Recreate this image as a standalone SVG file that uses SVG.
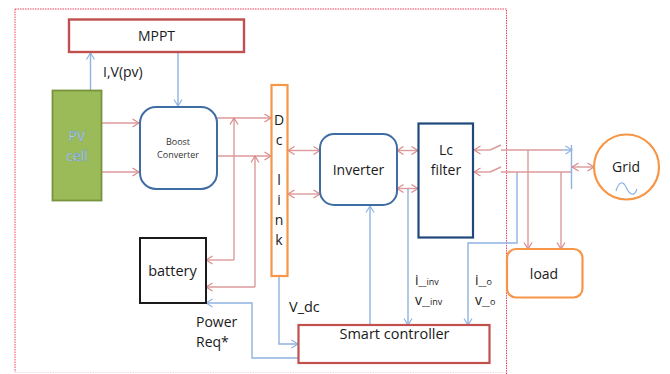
<svg xmlns="http://www.w3.org/2000/svg" width="670" height="374" viewBox="0 0 670 374">
<defs>
<marker id="r" markerUnits="userSpaceOnUse" markerWidth="9" markerHeight="10" refX="7.500" refY="5" orient="auto-start-reverse"><path d="M1,1 L7.500,5 L1,9" fill="none" stroke="#d98a8a" stroke-width="1.200"/></marker>
<marker id="b" markerUnits="userSpaceOnUse" markerWidth="9" markerHeight="10" refX="7.500" refY="5" orient="auto-start-reverse"><path d="M1,1 L7.500,5 L1,9" fill="none" stroke="#8fb3e0" stroke-width="1.200"/></marker>
</defs>
<style>
text{font-family:"Open Sans","Liberation Sans",sans-serif;fill:#1a1a1a}
.c{text-anchor:middle}
.rl{fill:none;stroke:#dc9a9a;stroke-width:1.400}
.bl{fill:none;stroke:#8fb3e0;stroke-width:1.400}
.ra{marker-end:url(#r)}
.ba{marker-end:url(#b)}
.rr{marker-start:url(#r);marker-end:url(#r)}
.n{fill:#fff}
.pv{fill:#c9dcf2;stroke:#5f8fbf;stroke-width:.4}
</style>
<rect width="670" height="374" fill="#fff"/>
<path d="M15,9 H506.500 V374 M15,9 V372" fill="none" stroke="#f0405a" stroke-width="1" stroke-dasharray="1.500 1"/>
<path d="M15,372.500 H506" fill="none" stroke="#f8d8dc" stroke-width="1" stroke-dasharray="1.500 1"/>
<g id="connectors">
<path class="bl ba" d="M90.500,90 V53"/>
<path class="bl ba" d="M178,53 V106"/>
<path class="rl ra" d="M102,123 H139"/>
<path class="rl ra" d="M102,172 H139"/>
<path class="rl ra" d="M217,118 H271"/>
<path class="rl ra" d="M217,156 H271"/>
<path class="rl ra" d="M234,260 V118"/>
<path class="rl ra" d="M255,287 V156"/>
<path class="rl ra" d="M234,260 H206"/>
<path class="rl ra" d="M255,287 H206"/>
<path class="rl rr" d="M288,150.500 H320"/>
<path class="rl rr" d="M288,194 H320"/>
<path class="rl rr" d="M397,150.500 H418"/>
<path class="rl rr" d="M397,188.500 H418"/>
<path class="bl ba" d="M370,325 V206"/>
<path class="bl ba" d="M408,189 V325"/>
<path class="bl ba" d="M517,172 V243 H468 V325"/>
<path class="rl ra" d="M490,150 H474"/>
<path class="rl" d="M490,150 L501,145"/>
<path class="rl ra" d="M490,172 H474"/>
<path class="rl" d="M490,172 L501,167"/>
<path class="rl" d="M501,150 H562"/>
<path class="bl ba" d="M562,150 H572"/>
<path class="rl" d="M501,172 H571"/>
<path class="rl ra" d="M528,150 V249"/>
<path class="rl ra" d="M561,172 V249"/>
<path class="bl" d="M571.500,145 V189"/>
<path class="rl rr" d="M572,167 H594"/>
<path class="bl ba" d="M279,276 V344 H298"/>
<path class="bl ba" d="M298,358 H252 V303 H206"/>
</g>
<g id="mppt"><rect class="n" x="69" y="19.500" width="175" height="32.500" stroke="#c0504d" stroke-width="2.400"/><text class="c" x="156.500" y="41" font-size="14">MPPT</text></g>
<text x="103" y="77" font-size="14">I,V(pv)</text>
<g id="pv-cell"><rect x="52.500" y="90.500" width="49" height="110" fill="#9bbb59" stroke="#77933c" stroke-width="1.800"/><text class="c pv" x="77" y="141" font-size="14">PV</text><text class="c pv" x="77" y="161" font-size="14">cell</text></g>
<g id="boost-converter"><rect class="n" x="140" y="107" width="77" height="82" rx="16" stroke="#3f6ca3" stroke-width="2"/><text class="c" x="178" y="145" font-size="9" style="fill:#333">Boost</text><text class="c" x="178" y="158" font-size="9" style="fill:#333">Converter</text></g>
<g id="dc-link"><rect class="n" x="271.500" y="85" width="16" height="191" stroke="#f79646" stroke-width="2.200"/><text class="c" x="279" y="125" font-size="14">D</text><text class="c" x="279" y="145" font-size="14">c</text><text class="c" x="279" y="185" font-size="14">l</text><text class="c" x="279" y="205" font-size="14">i</text><text class="c" x="279" y="225" font-size="14">n</text><text class="c" x="279" y="245" font-size="14">k</text></g>
<g id="inverter"><rect class="n" x="320" y="134" width="77" height="71" rx="14" stroke="#3f6ca3" stroke-width="2"/><text class="c" x="358.500" y="175" font-size="14">Inverter</text></g>
<g id="lc-filter"><rect class="n" x="418.500" y="123.500" width="54.500" height="114" stroke="#1f497d" stroke-width="2.200"/><text class="c" x="446" y="155" font-size="14">Lc</text><text class="c" x="446" y="175" font-size="14">filter</text></g>
<g id="grid"><circle class="n" cx="626.500" cy="167" r="32.500" stroke="#f79646" stroke-width="2.200"/><text class="c" x="626" y="172" font-size="14">Grid</text><path d="M616,191 C619,181 623,181 626,187 C629,194 634,198 637,189" fill="none" stroke="#8fb3e0" stroke-width="1.200"/></g>
<g id="load"><rect class="n" x="507" y="249" width="75.500" height="48.500" rx="9" stroke="#f79646" stroke-width="2.200"/><text class="c" x="544" y="279" font-size="14">load</text></g>
<g id="battery"><rect class="n" x="140" y="238" width="66" height="65" stroke="#1a1a1a" stroke-width="2"/><text class="c" x="172.500" y="276" font-size="14.500">battery</text></g>
<g id="smart-controller"><rect class="n" x="298.500" y="325" width="191" height="38" stroke="#c0504d" stroke-width="2.200"/><text class="c" x="394.500" y="339" font-size="14.500">Smart controller</text></g>
<text x="196" y="327" font-size="14">Power</text>
<text x="196" y="347" font-size="14">Req*</text>
<text x="289" y="312" font-size="14.500">V_dc</text>
<text x="415" y="285" font-size="14">i<tspan font-size="9">__inv</tspan></text>
<text x="415" y="305" font-size="14">v<tspan font-size="9">__inv</tspan></text>
<text x="475" y="285" font-size="14">i<tspan font-size="9">__o</tspan></text>
<text x="475" y="305" font-size="14">v<tspan font-size="9">__o</tspan></text>
</svg>
